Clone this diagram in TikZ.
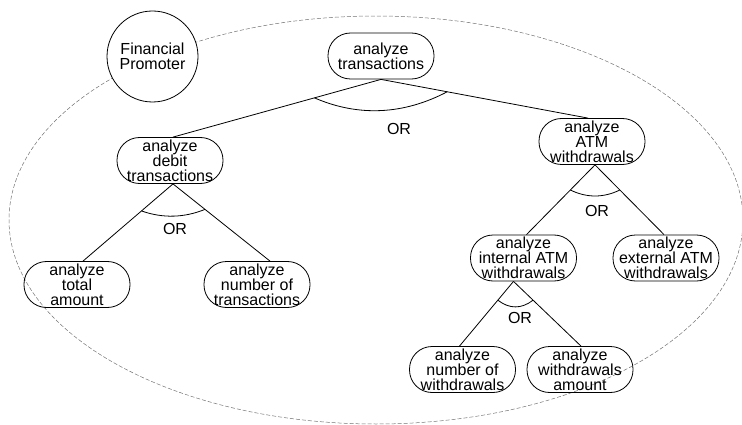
\documentclass[tikz,border=0pt]{standalone}
\usepackage{fontspec}
\setmainfont{Liberation Sans}
\usetikzlibrary{calc}
\begin{document}
\begin{tikzpicture}[x=1pt,y=-1pt,
  goal/.style={draw, line width=0.8pt, rounded corners=22.5pt, minimum width=106pt,
    minimum height=46pt, inner sep=0pt, align=center,
    font=\fontsize{16}{15}\selectfont},
  actor/.style={draw, fill=white, circle, line width=0.8pt, minimum size=91pt,
    inner sep=0pt, align=center, font=\fontsize{16}{15}\selectfont},
  link/.style={line width=0.8pt},
  orarc/.style={line width=0.8pt},
  orlabel/.style={font=\fontsize{16}{15}\selectfont, inner sep=0pt},
  boundary/.style={draw=black!55, line width=0.5pt, dash pattern=on 4pt off 2pt}]
\useasboundingbox (0,0) rectangle (742,425);

% actor boundary
\begin{scope}
  \clip (0,0) rectangle (742,425);
  \draw[boundary] (376,220) ellipse [x radius=367, y radius=204];
\end{scope}

% actor
\node[actor] (fp) at (152.5,56.5) {Financial\\Promoter};

% goals
\node[goal] (root) at (381,56) {analyze\\transactions};
\node[goal] (debit) at (170,160.5) {analyze\\debit\\transactions};
\node[goal] (atm) at (592,141.5) {analyze\\ATM\\withdrawals};
\node[goal] (total) at (77,284.5) {analyze\\total\\amount};
\node[goal] (numtr) at (257,284.5) {analyze\\number of\\transactions};
\node[goal] (int) at (523.5,258) {analyze\\internal ATM\\withdrawals};
\node[goal] (ext) at (666,258) {analyze\\external ATM\\withdrawals};
\node[goal] (numwd) at (462.5,369.5) {analyze\\number of\\withdrawals};
\node[goal] (amt) at (580,369.5) {analyze\\withdrawals\\amount};

% decomposition links
\coordinate (rA) at (root.south);
\coordinate (dA) at ([xshift=3pt]debit.south);
\coordinate (aA) at ([xshift=3pt]atm.south);
\coordinate (iA) at ([xshift=-10pt]int.south);

\draw[link] (rA) -- ([xshift=3pt]debit.north);
\draw[link] (rA) -- ([xshift=-4pt]atm.north);
\draw[link] (dA) -- ([xshift=6pt]total.north);
\draw[link] (dA) -- ([xshift=13pt]numtr.north);
\draw[link] (aA) -- ([xshift=3pt]int.north);
\draw[link] (aA) -- ([xshift=-2pt]ext.north);
\draw[link] (iA) -- ([xshift=-3pt]numwd.north);
\draw[link] (iA) -- ([xshift=1pt]amt.north);

% OR arcs
\coordinate (r1) at ($(rA)!0.32!([xshift=3pt]debit.north)$);
\coordinate (r2) at ($(rA)!0.32!([xshift=-4pt]atm.north)$);
\draw[orarc] (r1) .. controls ($(r1)!0.33!(r2)+(0,21)$) and ($(r1)!0.67!(r2)+(0,21)$) .. (r2);

\coordinate (d1) at ($(dA)!0.35!([xshift=6pt]total.north)$);
\coordinate (d2) at ($(dA)!0.33!([xshift=13pt]numtr.north)$);
\draw[orarc] (d1) .. controls ($(d1)!0.33!(d2)+(0,8)$) and ($(d1)!0.67!(d2)+(0,8)$) .. (d2);

\coordinate (a1) at ($(aA)!0.36!([xshift=3pt]int.north)$);
\coordinate (a2) at ($(aA)!0.36!([xshift=-2pt]ext.north)$);
\draw[orarc] (a1) .. controls ($(a1)!0.33!(a2)+(0,8)$) and ($(a1)!0.67!(a2)+(0,8)$) .. (a2);

\coordinate (i1) at ($(iA)!0.29!([xshift=-3pt]numwd.north)$);
\coordinate (i2) at ($(iA)!0.29!([xshift=1pt]amt.north)$);
\draw[orarc] (i1) .. controls ($(i1)!0.33!(i2)+(0,9)$) and ($(i1)!0.67!(i2)+(0,9)$) .. (i2);

% OR labels
\node[orlabel] (orR) at (399,129) {OR};
\node[orlabel] (orD) at (175,229) {OR};
\node[orlabel] (orA) at (597,211) {OR};
\node[orlabel] (orI) at (520,318) {OR};
\end{tikzpicture}
\end{document}
